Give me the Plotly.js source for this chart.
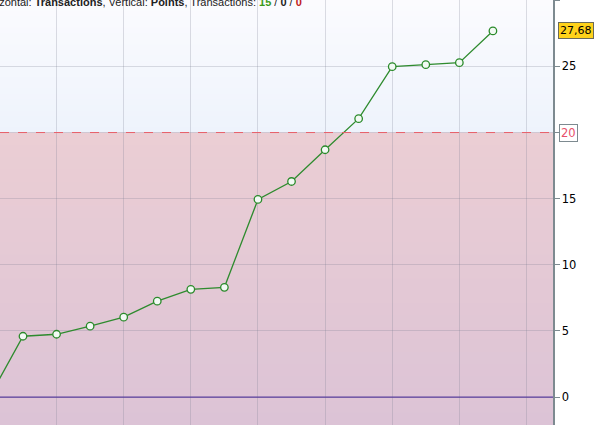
<!DOCTYPE html>
<html>
<head>
<meta charset="utf-8">
<script src="https://cdn.plot.ly/plotly-3.0.1.min.js"></script>
<style>html,body{margin:0;padding:0;background:#fff;}#chart{width:596px;height:425px;}</style>
</head>
<body>
<div id="chart"></div>
<script>
// Data
var transactions = [0, 1, 2, 3, 4, 5, 6, 7, 8, 9, 10, 11, 12, 13, 14, 15];
var points = [0, 4.6, 4.75, 5.36, 6.04, 7.25, 8.15, 8.3, 14.94, 16.3, 18.7, 21.05, 24.98, 25.13, 25.28, 27.68];
var yTickVals = [0, 5, 10, 15, 20, 25, 30];
var yTickText = ['0', '5', '10', '15', '', '25', '30'];
var targetLevel = 20;
var lastLabel = '27,68';

var yMin = -2.11, yMax = 30.02;

function lerp(a, b, t) { return Math.round(a + (b - a) * t); }
function mix(c1, c2, t) {
  return 'rgb(' + lerp(c1[0], c2[0], t) + ',' + lerp(c1[1], c2[1], t) + ',' + lerp(c1[2], c2[2], t) + ')';
}
var shapes = [];
// gradient background bands (overlapping to avoid seams)
var N = 24;
var topLow = [238, 243, 252], topHigh = [251, 251, 254];
var botLow = [220, 195, 214], botHigh = [235, 206, 212];
for (var i = 0; i < N; i++) {
  var a = targetLevel + (yMax - targetLevel) * i / N;
  var b = (i === N - 1) ? yMax + 1 : targetLevel + (yMax - targetLevel) * (i + 1) / N + 0.2;
  shapes.push({type: 'rect', xref: 'paper', yref: 'y', x0: 0, x1: 1, y0: a, y1: b,
    fillcolor: mix(topLow, topHigh, (i + 0.5) / N), line: {width: 0}, layer: 'below'});
}
for (var j = N - 1; j >= 0; j--) {
  var c = (j === 0) ? yMin - 1 : yMin + (targetLevel - yMin) * j / N - 0.2;
  var d = yMin + (targetLevel - yMin) * (j + 1) / N;
  shapes.push({type: 'rect', xref: 'paper', yref: 'y', x0: 0, x1: 1, y0: c, y1: d,
    fillcolor: mix(botLow, botHigh, (j + 0.5) / N), line: {width: 0}, layer: 'below'});
}
// target dashed line
shapes.push({type: 'line', xref: 'paper', yref: 'y', x0: 0, x1: 1, y0: targetLevel, y1: targetLevel,
  line: {color: '#e8606a', width: 1, dash: 'dash'}});
// zero line
shapes.push({type: 'line', xref: 'paper', yref: 'y', x0: 0, x1: 1, y0: 0, y1: 0,
  line: {color: '#5b3f9e', width: 1.3}});

var trace = {
  x: transactions, y: points, type: 'scatter', mode: 'lines+markers',
  line: {color: '#2e8b2e', width: 1.3},
  marker: {size: 7.5, color: '#f2faf4', line: {color: '#2a8a2a', width: 1.3}},
  cliponaxis: true, hoverinfo: 'none'
};

var layout = {
  width: 596, height: 425,
  margin: {l: 0, r: 43, t: 0, b: 0, pad: 0},
  paper_bgcolor: '#ffffff', plot_bgcolor: '#f4f6fc',
  showlegend: false,
  xaxis: {range: [0.315, 16.79], tickvals: [2, 4, 6, 8, 10, 12, 14, 16], showticklabels: false,
    showgrid: true, gridcolor: 'rgba(120,125,145,0.25)', gridwidth: 1, zeroline: false, showline: false, ticks: ''},
  yaxis: {range: [yMin, yMax], side: 'right', tickvals: yTickVals, ticktext: yTickText,
    showgrid: true, gridcolor: 'rgba(120,125,145,0.25)', gridwidth: 1, zeroline: false,
    showline: true, linecolor: '#7d8a90', linewidth: 1.5, ticks: 'outside', ticklen: 5, tickcolor: '#7d8a90',
    tickfont: {family: 'DejaVu Sans', size: 11.5, color: '#000'}},
  shapes: shapes,
  annotations: [
    {xref: 'paper', yref: 'y', x: 1, y: targetLevel, xanchor: 'left', yanchor: 'middle', xshift: 6,
      text: String(targetLevel), showarrow: false, font: {family: 'DejaVu Sans', size: 11.5, color: '#e8506a'},
      bgcolor: '#ffffff', bordercolor: '#7d8a90', borderwidth: 1, borderpad: 1},
    {xref: 'paper', yref: 'y', x: 1, y: points[points.length - 1], xanchor: 'left', yanchor: 'middle', xshift: 5,
      text: lastLabel, showarrow: false, font: {family: 'DejaVu Sans', size: 11, color: '#000'},
      bgcolor: '#ffd21a', bordercolor: '#6a6a5a', borderwidth: 1, borderpad: 1},
    {xref: 'paper', yref: 'paper', x: 0, y: 1, xanchor: 'left', yanchor: 'middle', xshift: -23, yshift: -2,
      showarrow: false, align: 'left',
      text: 'Horizontal: <b>Transactions</b>, Vertical: <b>Points</b>, Transactions: <span style="color:#3a9a1a"><b>15</b></span> / <b>0</b> / <span style="color:#c02020"><b>0</b></span>',
      font: {family: 'Liberation Sans', size: 11, color: '#222'}}
  ]
};

Plotly.newPlot('chart', [trace], layout, {staticPlot: true, displayModeBar: false});
</script>
</body>
</html>
